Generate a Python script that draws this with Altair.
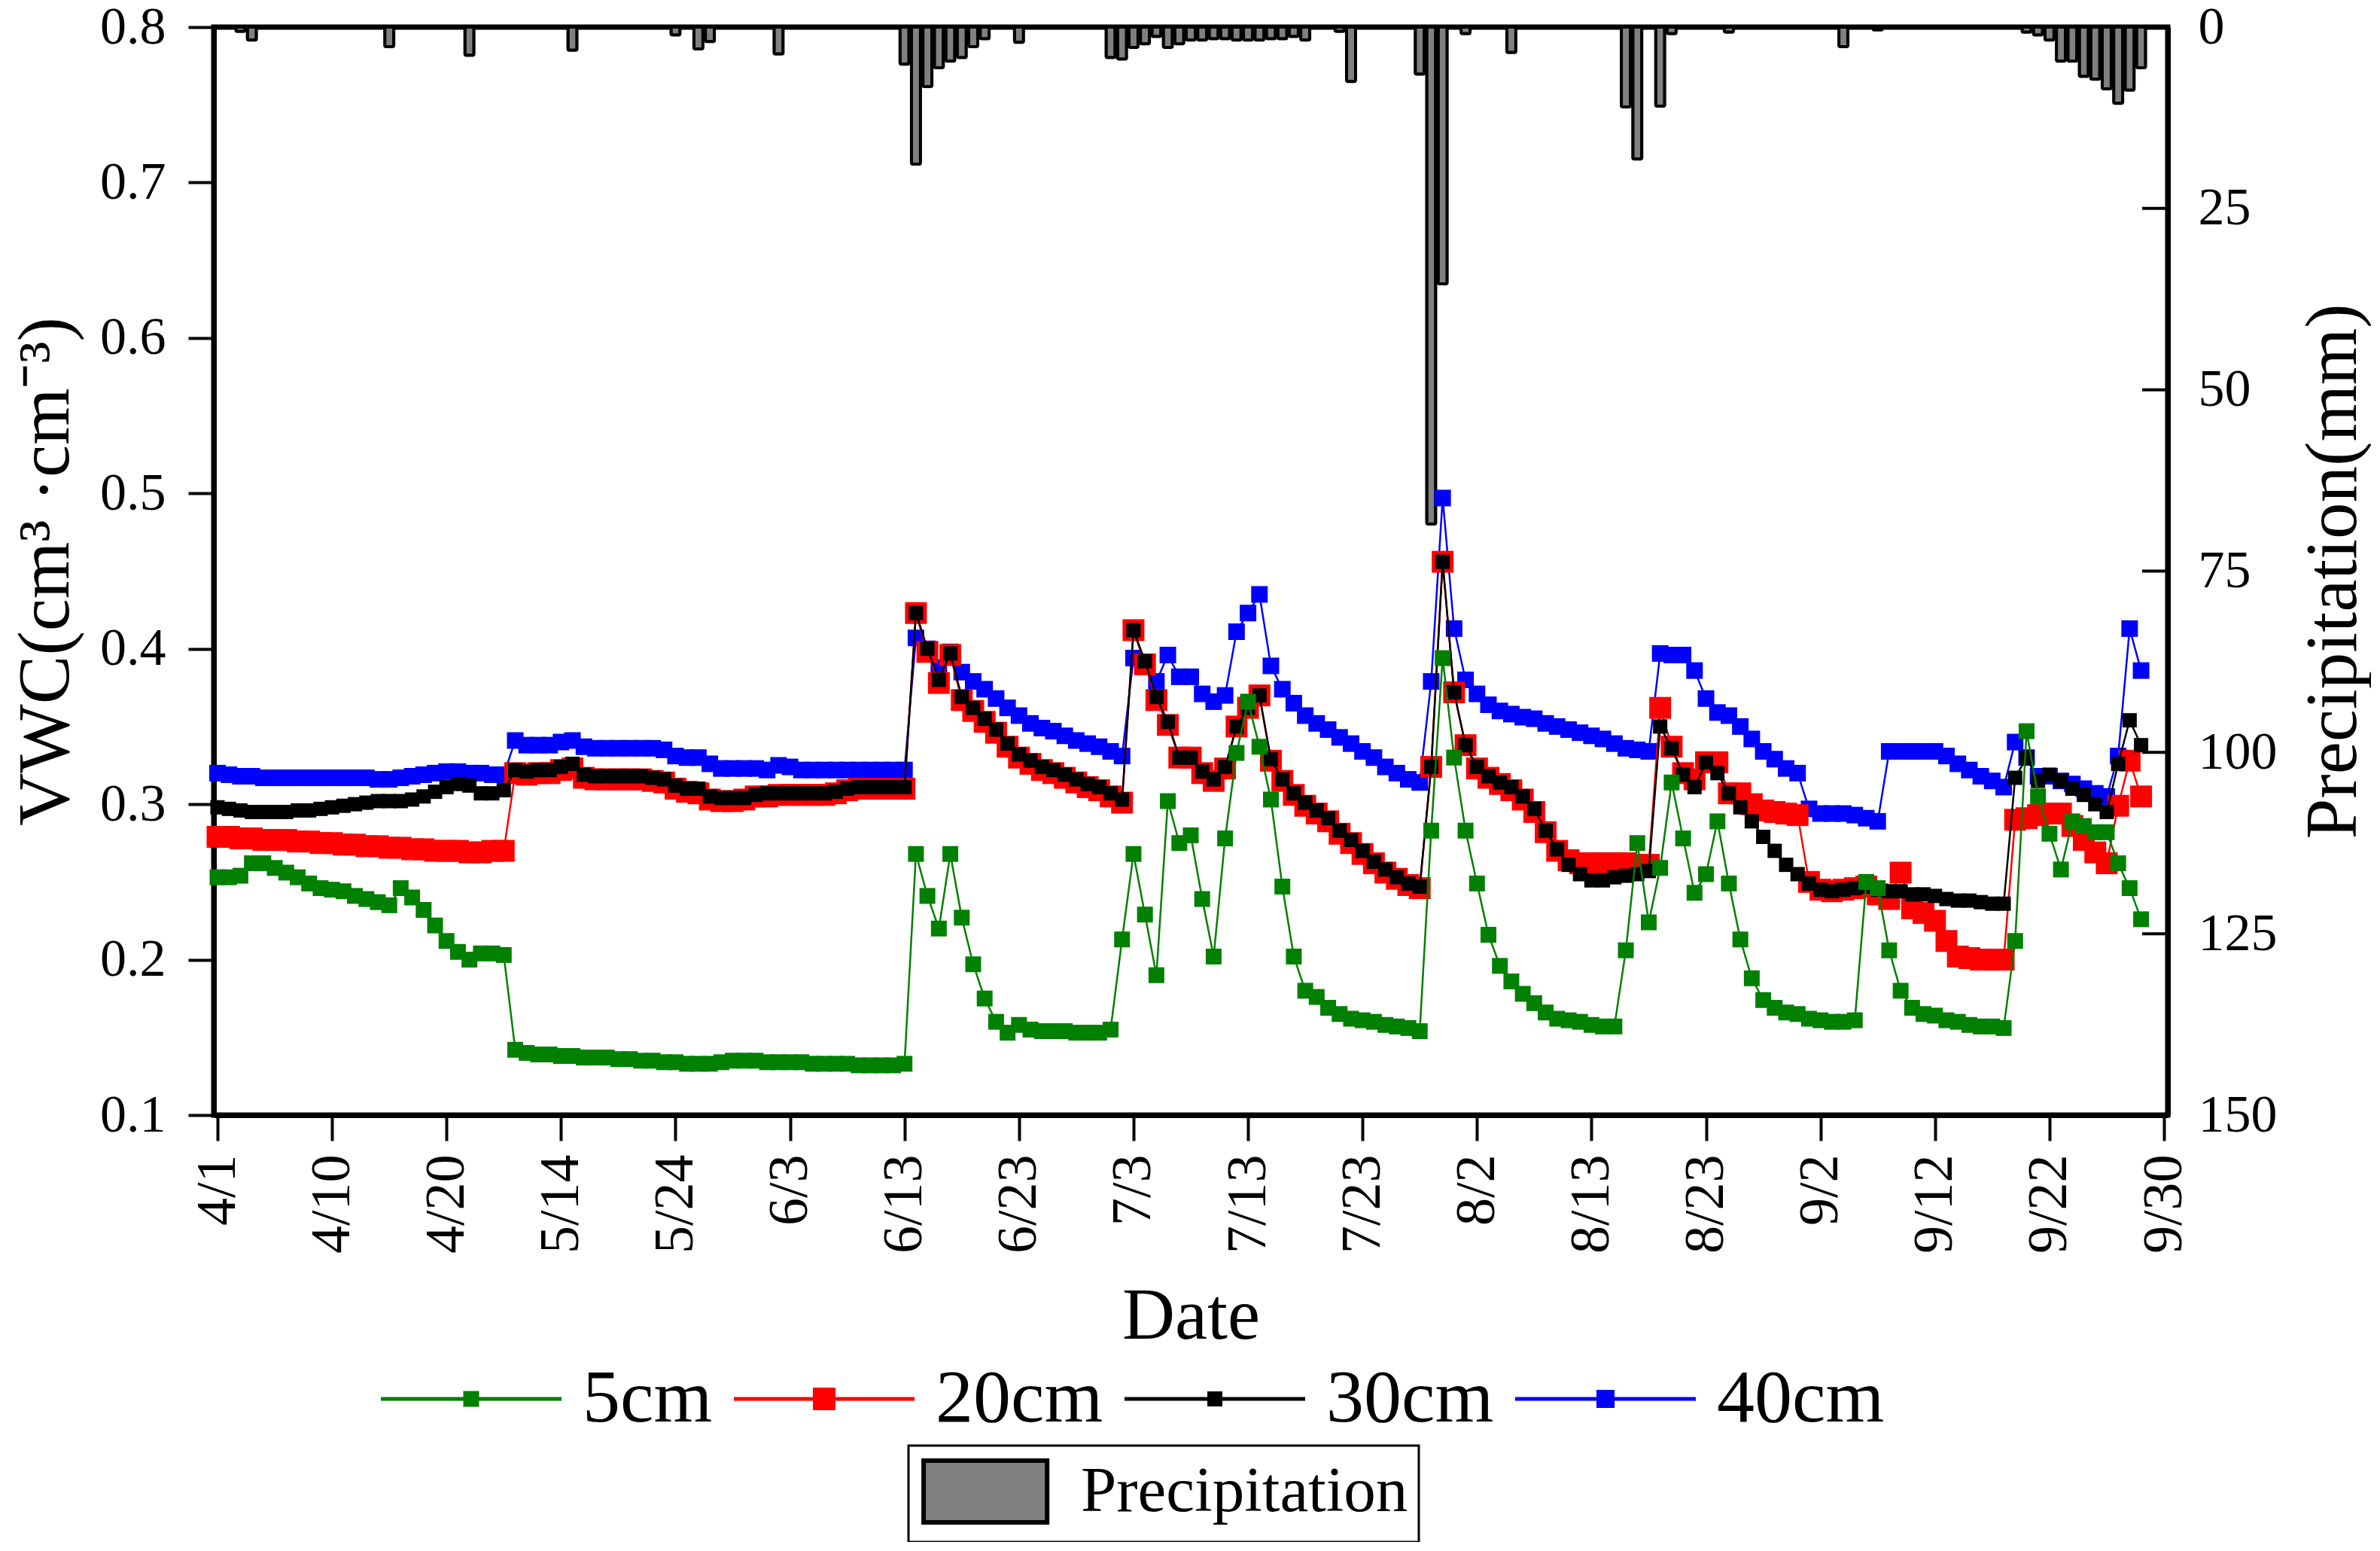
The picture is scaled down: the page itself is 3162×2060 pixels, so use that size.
import json
import altair as alt
import pandas as pd

FONT = "Liberation Serif"

# x positions are observation indices (0..170); ticks every 10 observations
tick_labels = ["4/1", "4/10", "4/20", "5/14", "5/24", "6/3", "6/13", "6/23", "7/3",
               "7/13", "7/23", "8/2", "8/13", "8/23", "9/2", "9/12", "9/22", "9/30"]

series_names = ["5cm", "20cm", "30cm", "40cm"]
series_colors = ["#008000", "#ff0000", "#000000", "#0000ff"]

vwc_5cm = [
    0.253, 0.253, 0.254, 0.262, 0.262, 0.259, 0.256, 0.253, 0.249, 0.246, 0.245, 0.244, 0.241,
    0.239, 0.237, 0.235, 0.246, 0.240, 0.232, 0.222, 0.212, 0.205, 0.200, 0.204, 0.204, 0.203,
    0.142, 0.140, 0.139, 0.139, 0.138, 0.138, 0.137, 0.137, 0.137, 0.136, 0.136, 0.135, 0.135,
    0.134, 0.134, 0.133, 0.133, 0.133, 0.134, 0.135, 0.135, 0.135, 0.134, 0.134, 0.134, 0.134,
    0.133, 0.133, 0.133, 0.133, 0.132, 0.132, 0.132, 0.132, 0.133,
    0.268, 0.241, 0.220, 0.268, 0.227, 0.197, 0.175, 0.160, 0.153, 0.158, 0.155, 0.154, 0.154,
    0.154, 0.153, 0.153, 0.153, 0.155, 0.213, 0.268, 0.229, 0.190, 0.302, 0.275, 0.280, 0.239,
    0.202, 0.278, 0.333, 0.366, 0.337, 0.303, 0.247, 0.202, 0.180, 0.176,
    0.169, 0.165, 0.162, 0.161, 0.160, 0.158, 0.157, 0.156, 0.154, 0.283, 0.394, 0.330, 0.283,
    0.249, 0.216, 0.196, 0.186, 0.178, 0.172, 0.166, 0.162, 0.161, 0.160, 0.158, 0.157, 0.157,
    0.206, 0.275, 0.224, 0.259, 0.314, 0.278, 0.243, 0.255, 0.289,
    0.249, 0.213, 0.188, 0.174, 0.169, 0.166, 0.165, 0.162, 0.161, 0.160, 0.160, 0.161, 0.250,
    0.246, 0.206, 0.180, 0.169, 0.165, 0.164, 0.161, 0.160, 0.158, 0.157, 0.157, 0.156, 0.212,
    0.347, 0.305, 0.281, 0.258, 0.289, 0.286, 0.282, 0.282, 0.262, 0.246, 0.226,
]

vwc_20cm = [
    0.279, 0.279, 0.278, 0.278, 0.277, 0.277, 0.277, 0.276, 0.276, 0.275, 0.275, 0.274, 0.274,
    0.273, 0.273, 0.272, 0.272, 0.271, 0.271, 0.270, 0.270, 0.270, 0.269, 0.269, 0.270, 0.270,
    0.320, 0.319, 0.320, 0.320, 0.322, 0.323, 0.317, 0.316, 0.316, 0.316, 0.316, 0.316, 0.315,
    0.314, 0.310, 0.308, 0.307, 0.303, 0.302, 0.302, 0.303, 0.305, 0.305, 0.306, 0.306, 0.306,
    0.306, 0.306, 0.307, 0.309, 0.310, 0.310, 0.310, 0.310, 0.310,
    0.423, 0.398, 0.378, 0.396, 0.367, 0.360, 0.353, 0.346, 0.337, 0.330, 0.326, 0.322, 0.320,
    0.317, 0.314, 0.311, 0.309, 0.305, 0.301, 0.412, 0.390, 0.367, 0.351, 0.330, 0.330, 0.320,
    0.315, 0.323, 0.350, 0.362, 0.370, 0.328, 0.315, 0.306, 0.299, 0.294,
    0.289, 0.281, 0.275, 0.268, 0.262, 0.256, 0.252, 0.248, 0.246, 0.324, 0.456, 0.372, 0.338,
    0.323, 0.317, 0.313, 0.309, 0.303, 0.295, 0.282, 0.270, 0.264, 0.262, 0.262, 0.262, 0.262,
    0.262, 0.261, 0.261, 0.362, 0.337, 0.320, 0.316, 0.327, 0.327,
    0.307, 0.307, 0.300, 0.296, 0.295, 0.294, 0.293, 0.250, 0.245, 0.244, 0.245, 0.246, 0.247,
    0.242, 0.239, 0.256, 0.233, 0.230, 0.225, 0.212, 0.202, 0.201, 0.200, 0.200, 0.200, 0.290,
    0.291, 0.293, 0.294, 0.294, 0.286, 0.277, 0.269, 0.262, 0.299, 0.328, 0.305,
]

vwc_30cm = [
    0.298, 0.297, 0.296, 0.295, 0.295, 0.295, 0.295, 0.296, 0.296, 0.297, 0.298, 0.299, 0.300,
    0.301, 0.302, 0.302, 0.302, 0.303, 0.305, 0.308, 0.311, 0.313, 0.312, 0.307, 0.307, 0.309,
    0.322, 0.321, 0.322, 0.322, 0.324, 0.326, 0.319, 0.318, 0.318, 0.318, 0.318, 0.318, 0.317,
    0.316, 0.312, 0.310, 0.310, 0.305, 0.304, 0.304, 0.304, 0.306, 0.307, 0.307, 0.307, 0.307,
    0.307, 0.307, 0.308, 0.310, 0.311, 0.311, 0.311, 0.311, 0.311,
    0.423, 0.400, 0.380, 0.397, 0.369, 0.362, 0.355, 0.348, 0.339, 0.332, 0.328, 0.324, 0.322,
    0.319, 0.316, 0.313, 0.311, 0.307, 0.303, 0.412, 0.392, 0.369, 0.353, 0.330, 0.330, 0.321,
    0.316, 0.324, 0.350, 0.362, 0.370, 0.329, 0.316, 0.307, 0.301, 0.296,
    0.291, 0.283, 0.277, 0.270, 0.263, 0.258, 0.253, 0.249, 0.247, 0.324, 0.456, 0.372, 0.338,
    0.324, 0.318, 0.314, 0.311, 0.305, 0.297, 0.283, 0.271, 0.261, 0.255, 0.251, 0.251, 0.253,
    0.254, 0.255, 0.257, 0.350, 0.336, 0.319, 0.311, 0.327, 0.320,
    0.307, 0.298, 0.289, 0.279, 0.270, 0.261, 0.255, 0.249, 0.245, 0.244, 0.245, 0.246, 0.247,
    0.245, 0.244, 0.244, 0.242, 0.242, 0.241, 0.239, 0.238, 0.238, 0.237, 0.236, 0.236, 0.317,
    0.330, 0.315, 0.319, 0.315, 0.310, 0.306, 0.300, 0.295, 0.326, 0.354, 0.338,
]

vwc_40cm = [
    0.320, 0.319, 0.318, 0.318, 0.317, 0.317, 0.317, 0.317, 0.317, 0.317, 0.317, 0.317, 0.317,
    0.317, 0.316, 0.316, 0.317, 0.318, 0.319, 0.320, 0.321, 0.321, 0.320, 0.320, 0.319, 0.319,
    0.341, 0.338, 0.338, 0.338, 0.340, 0.341, 0.337, 0.336, 0.336, 0.336, 0.336, 0.336, 0.336,
    0.335, 0.331, 0.330, 0.330, 0.326, 0.323, 0.323, 0.323, 0.323, 0.322, 0.325, 0.324, 0.322,
    0.322, 0.322, 0.322, 0.322, 0.322, 0.322, 0.322, 0.322, 0.322,
    0.407, 0.400, 0.388, 0.398, 0.385, 0.379, 0.374, 0.368, 0.362, 0.357, 0.352, 0.349, 0.347,
    0.344, 0.341, 0.339, 0.337, 0.334, 0.331, 0.394, 0.390, 0.379, 0.396, 0.382, 0.382, 0.371,
    0.366, 0.370, 0.411, 0.423, 0.435, 0.389, 0.374, 0.365, 0.357, 0.352,
    0.348, 0.343, 0.339, 0.334, 0.330, 0.324, 0.320, 0.316, 0.314, 0.379, 0.497, 0.413, 0.380,
    0.371, 0.364, 0.360, 0.358, 0.356, 0.355, 0.352, 0.350, 0.348, 0.346, 0.344, 0.342, 0.339,
    0.336, 0.335, 0.334, 0.397, 0.396, 0.396, 0.386, 0.368, 0.359,
    0.357, 0.350, 0.342, 0.334, 0.329, 0.323, 0.320, 0.297, 0.294, 0.294, 0.294, 0.293, 0.291,
    0.289, 0.334, 0.334, 0.334, 0.334, 0.334, 0.331, 0.326, 0.322, 0.318, 0.315, 0.311, 0.340,
    0.330, 0.318, 0.318, 0.315, 0.313, 0.310, 0.307, 0.305, 0.331, 0.413, 0.386,
]

precip_idx = [2, 3, 15, 22, 31, 40, 42, 43, 49, 60, 61, 62, 63, 64, 65, 66, 67, 70,
              78, 79, 80, 81, 82, 83, 84, 85, 86, 87, 88, 89, 90, 91, 92, 93, 94, 95,
              98, 99, 105, 106, 107, 109, 113, 123, 124, 126, 127, 132, 142, 145,
              158, 159, 160, 161, 162, 163, 164, 165, 166, 167, 168]
precip_mm = [0.6, 1.8, 2.7, 3.9, 3.2, 1.1, 3.0, 2.0, 3.7, 5.1, 18.9, 8.2, 5.6, 4.7, 4.2, 2.7, 1.6, 2.1,
             4.2, 4.4, 2.8, 2.3, 1.3, 2.8, 2.3, 1.8, 1.8, 1.6, 1.6, 1.8, 1.8, 1.8, 1.6, 1.6, 1.3, 1.8,
             0.6, 7.5, 6.5, 68.5, 35.4, 0.9, 3.5, 11.0, 18.2, 10.9, 0.9, 0.7, 2.7, 0.4,
             0.7, 1.1, 1.8, 4.7, 4.7, 6.8, 7.2, 8.5, 10.5, 8.7, 5.6]

vwc_ticks = [0.1, 0.2, 0.3, 0.4, 0.5, 0.6, 0.7, 0.8]
precip_ticks = [0, 25, 50, 75, 100, 125, 150]

# ---------------------------------------------------------------- data frames
rows = []
for name, vals in zip(series_names, [vwc_5cm, vwc_20cm, vwc_30cm, vwc_40cm]):
    for i, v in enumerate(vals):
        rows.append({"idx": i, "vwc": v, "depth": name})
vwc_df = pd.DataFrame(rows)
precip_df = pd.DataFrame({"idx": precip_idx, "mm": precip_mm})
precip_df["kind"] = "Precipitation"
ptick_df = pd.DataFrame({"mm": precip_ticks})

W, H = 2596, 1445

# ---------------------------------------------------------------- encodings
label_expr = json.dumps(tick_labels) + "[round(datum.value / 10)]"
x_enc = alt.X(
    "idx:Q",
    scale=alt.Scale(domain=[0, 170], nice=False, zero=False),
    axis=alt.Axis(values=list(range(0, 171, 10)), labelExpr=label_expr, labelAngle=270,
                  labelFontSize=74, labelPadding=18, title="Date", titlePadding=36,
                  orient="bottom"),
)
y_vwc = alt.Y(
    "vwc:Q",
    scale=alt.Scale(domain=[0.1, 0.8], nice=False, zero=False),
    axis=alt.Axis(values=vwc_ticks, format=".1f", orient="left", labelPadding=30,
                  title="VWC(cm³ ·cm⁻³)", titlePadding=22),
)
precip_scale = alt.Scale(domain=[0, 150], reverse=True, nice=False)
right_axis = alt.Axis(values=precip_ticks, orient="right", ticks=False, tickSize=0,
                      labelPadding=40, title="Precipitation(mm)", titleAngle=270,
                      titleBaseline="top", titlePadding=27)

color_scale = alt.Scale(domain=series_names, range=series_colors)

# legend symbols: a thin bar (the line) with a square marker on it, all filled
t = 0.021
half = {"5cm": 0.0875, "20cm": 0.125, "30cm": 0.083, "40cm": 0.1}


def legend_path(h):
    return f"M-1,{-t}L1,{-t}L1,{t}L-1,{t}ZM{-h},{-h}L{h},{-h}L{h},{h}L{-h},{h}Z"


legend_paths = [legend_path(half[k]) for k in series_names]

depth_legend = alt.Legend(
    orient="none", legendX=222, legendY=1702, direction="horizontal", title=None,
    labelFont=FONT, labelFontSize=100, labelColor="black", labelLimit=2000,
    labelOffset=28, columnPadding=28, symbolSize=57600, symbolStrokeWidth=0,
    symbolOpacity=1, symbolType=legend_path(0.1),
)

marker_area = {"5cm": 441, "20cm": 841, "30cm": 361, "40cm": 484}
series_color = dict(zip(series_names, series_colors))
draw_order = ["40cm", "20cm", "30cm", "5cm"]

series_layers = []
for s in draw_order:
    base = alt.Chart(vwc_df).transform_filter(alt.datum.depth == s)
    series_layers.append(base.mark_line(strokeWidth=2.5, color=series_color[s])
                         .encode(x=x_enc, y=y_vwc))
    series_layers.append(base.mark_square(size=marker_area[s], opacity=1, filled=True,
                                          color=series_color[s])
                         .encode(x=x_enc, y=y_vwc))

# legend-only layer (no rows survive the filter)
legend_layer = alt.Chart(vwc_df).transform_filter("false").mark_point(
    filled=True, opacity=1
).encode(
    x=x_enc, y=y_vwc,
    color=alt.Color("depth:N", scale=color_scale, legend=depth_legend),
    shape=alt.Shape("depth:N", scale=alt.Scale(domain=series_names, range=legend_paths),
                    legend=depth_legend),
)
vwc_layer = alt.layer(*series_layers, legend_layer)

# swatch 167 x 88 px: nominal symbol 88 px, path extends to the right
rect_path = "M-0.93,-0.93L2.8,-0.93L2.8,0.93L-0.93,0.93Z"
precip_legend = alt.Legend(
    orient="none", legendX=923, legendY=1884, title=None, padding=14,
    strokeColor="black", labelFont=FONT, labelFontSize=85, labelColor="black",
    labelLimit=2000, labelOffset=121, symbolType=rect_path, symbolSize=7744,
    symbolStrokeColor="black", symbolStrokeWidth=6, symbolOpacity=1,
)

bars = alt.Chart(precip_df).mark_bar(size=12, stroke="black", strokeWidth=4,
                                     cornerRadius=2).encode(
    x=x_enc,
    y=alt.Y("mm:Q", scale=precip_scale, axis=right_axis),
    fill=alt.Fill("kind:N", scale=alt.Scale(domain=["Precipitation"], range=["#808080"]),
                  legend=precip_legend),
)
inner_ticks = alt.Chart(ptick_df).mark_rule(color="black", strokeWidth=4).encode(
    y=alt.Y("mm:Q", scale=precip_scale, axis=right_axis),
    x=alt.value(W),
    x2=alt.value(W - 34),
)
precip_layer = alt.layer(bars, inner_ticks)

chart = (
    alt.layer(precip_layer, vwc_layer)
    .resolve_scale(y="independent")
    .properties(
        width=W, height=H,
        padding={"left": 276, "top": 28, "right": 270, "bottom": 567},
        autosize=alt.AutoSizeParams(type="none"),
        background="white",
    )
    .configure_view(stroke="black", strokeWidth=7)
    .configure_axis(
        domainColor="black", domainWidth=7, tickColor="black", tickWidth=4, tickSize=34,
        labelFont=FONT, labelFontSize=70, labelColor="black",
        titleFont=FONT, titleFontSize=97, titleFontWeight="normal", titleColor="black",
        grid=False,
    )
    .configure_legend(strokeWidth=3)
)

chart.save("out.html", embed_options={"renderer": "svg", "actions": False})
